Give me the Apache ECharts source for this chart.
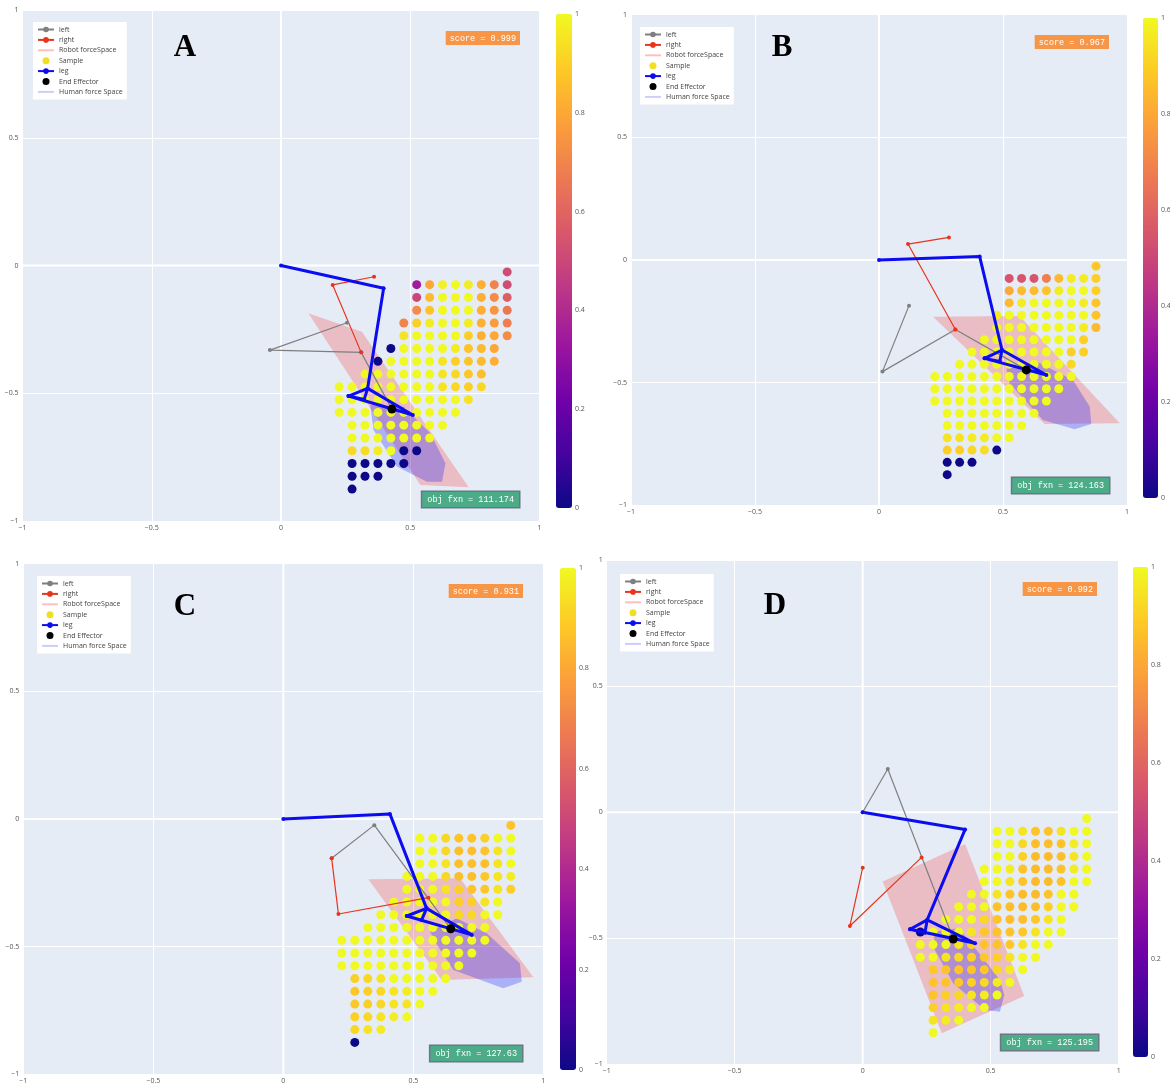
<!DOCTYPE html>
<html>
<head>
<meta charset="utf-8">
<title>Leg force space panels</title>
<script src="https://cdn.jsdelivr.net/npm/echarts@6/dist/echarts.min.js"></script>
<style>
  html, body { margin: 0; padding: 0; background: #fff; }
  #chart { width: 1170px; height: 1086px; }
</style>
</head>
<body>
<div id="chart"></div>
<script>
// ---- data ----
const panelNames = ['A', 'B', 'C', 'D'];
const scores = ['0.999', '0.967', '0.931', '0.992'];
const objFxn = ['111.174', '124.163', '127.63', '125.195'];

// sample grid (x columns, y rows)
const sampleCols = [0.225, 0.275, 0.325, 0.375, 0.425, 0.475, 0.525, 0.575, 0.625, 0.675, 0.725, 0.775, 0.825, 0.875];
const sampleRows = [-0.025, -0.075, -0.125, -0.175, -0.225, -0.275, -0.325, -0.375, -0.425,
  -0.475, -0.525, -0.575, -0.625, -0.675, -0.725, -0.775, -0.825, -0.875];

// [row index, first column index, scores along the row]
const samplesA = [
  [0, 13, [0.52]],
  [1, 6, [0.35, 0.8, 0.98, 1, 0.97, 0.82, 0.7, 0.52]],
  [2, 6, [0.5, 0.85, 1, 1, 1, 0.82, 0.72, 0.58]],
  [3, 6, [0.72, 0.87, 1, 1, 1, 0.82, 0.75, 0.66]],
  [4, 5, [0.7, 0.9, 0.97, 1, 1, 0.97, 0.82, 0.77, 0.68]],
  [5, 5, [0.95, 1, 1, 1, 1, 0.9, 0.82, 0.8, 0.72]],
  [6, 4, [0, 1, 1, 1, 1, 0.97, 0.87, 0.85, 0.8]],
  [7, 3, [0, 1, 1, 1, 1, 0.95, 0.9, 0.87, 0.85, 0.82]],
  [8, 2, [1, 1, 1, 1, 1, 1, 0.95, 0.92, 0.88, 0.86]],
  [9, 0, [1, 1, 1, 1, 1, 1, 1, 1, 0.95, 0.92, 0.9, 0.92]],
  [10, 0, [1, 1, 1, 1, 1, 1, 1, 1, 1, 1, 0.95]],
  [11, 0, [1, 1, 1, 1, 1, 1, 1, 1, 1, 1]],
  [12, 1, [1, 1, 1, 1, 1, 1, 1, 1]],
  [13, 1, [1, 1, 1, 1, 1, 1, 1]],
  [14, 1, [0.92, 0.93, 0.97, 1, 0, 0]],
  [15, 1, [0, 0, 0, 0, 0]],
  [16, 1, [0, 0, 0]],
  [17, 1, [0]]
];
const samplesB = [
  [0, 13, [0.88]],
  [1, 6, [0.55, 0.55, 0.55, 0.68, 0.85, 0.97, 0.97, 0.9]],
  [2, 6, [0.8, 0.85, 0.85, 0.87, 0.97, 1, 1, 0.9]],
  [3, 6, [0.85, 0.97, 1, 1, 1, 1, 0.97, 0.87]],
  [4, 5, [0.97, 1, 1, 1, 1, 1, 1, 1, 0.87]],
  [5, 5, [1, 1, 1, 1, 1, 1, 1, 0.97, 0.85]],
  [6, 4, [1, 1, 1, 1, 1, 1, 1, 1, 0.9]],
  [7, 3, [1, 1, 1, 1, 1, 1, 1, 1, 0.9, 0.9]],
  [8, 2, [1, 1, 1, 1, 1, 1, 1, 1, 1, 0.92]],
  [9, 0, [1, 1, 1, 1, 1, 1, 1, 1, 1, 1, 1, 1]],
  [10, 0, [1, 1, 1, 1, 1, 1, 1, 1, 1, 1, 1]],
  [11, 0, [1, 1, 1, 1, 1, 1, 1, 1, 1, 1]],
  [12, 1, [1, 1, 1, 1, 1, 1, 1, 1]],
  [13, 1, [1, 1, 1, 1, 1, 1, 1]],
  [14, 1, [0.95, 0.95, 0.97, 0.97, 1, 1]],
  [15, 1, [0.9, 0.9, 0.92, 0.93, 0]],
  [16, 1, [0, 0, 0]],
  [17, 1, [0]]
];
const samplesC = [
  [0, 13, [0.87]],
  [1, 6, [1, 1, 0.92, 0.87, 0.87, 0.9, 1, 1]],
  [2, 6, [1, 1, 0.92, 0.86, 0.86, 0.87, 0.95, 1]],
  [3, 6, [1, 1, 0.95, 0.86, 0.86, 0.86, 0.95, 1]],
  [4, 5, [1, 1, 1, 0.92, 0.86, 0.86, 0.88, 0.95, 0.97]],
  [5, 5, [1, 1, 1, 0.95, 0.9, 0.87, 0.88, 0.95, 0.9]],
  [6, 4, [1, 1, 1, 1, 1, 0.9, 0.9, 0.95, 1]],
  [7, 3, [1, 1, 1, 1, 1, 1, 0.92, 0.92, 1, 1]],
  [8, 2, [1, 1, 1, 1, 1, 1, 1, 1, 1, 1]],
  [9, 0, [1, 1, 1, 1, 1, 1, 1, 1, 1, 1, 1, 1]],
  [10, 0, [1, 1, 1, 1, 1, 1, 1, 1, 1, 1, 1]],
  [11, 0, [1, 1, 1, 1, 1, 1, 1, 1, 1, 1]],
  [12, 1, [0.9, 0.92, 0.95, 1, 1, 1, 1, 1]],
  [13, 1, [0.88, 0.9, 0.92, 0.95, 0.97, 1, 1]],
  [14, 1, [0.88, 0.9, 0.92, 0.95, 0.95, 1]],
  [15, 1, [0.9, 0.92, 0.95, 0.97, 1]],
  [16, 1, [0.92, 0.95, 0.97]],
  [17, 1, [0]]
];
const samplesD = [
  [0, 13, [1]],
  [1, 6, [1, 1, 0.95, 0.87, 0.87, 0.95, 1, 1]],
  [2, 6, [1, 1, 0.92, 0.86, 0.86, 0.87, 0.97, 1]],
  [3, 6, [1, 1, 0.9, 0.85, 0.85, 0.86, 0.95, 1]],
  [4, 5, [1, 1, 0.97, 0.87, 0.85, 0.85, 0.87, 0.97, 1]],
  [5, 5, [1, 1, 0.95, 0.87, 0.85, 0.85, 0.87, 1, 1]],
  [6, 4, [1, 1, 0.95, 0.87, 0.85, 0.85, 0.87, 1, 1]],
  [7, 3, [1, 1, 1, 0.87, 0.86, 0.85, 0.86, 0.9, 1, 1]],
  [8, 2, [1, 1, 1, 0.92, 0.87, 0.86, 0.86, 0.88, 0.95, 1]],
  [9, 0, [0, 1, 1, 1, 0.95, 0.88, 0.87, 0.87, 0.88, 0.95, 1, 1]],
  [10, 0, [1, 1, 1, 0.95, 0.9, 0.87, 0.87, 0.88, 0.95, 1, 1]],
  [11, 0, [1, 1, 0.95, 0.92, 0.9, 0.88, 0.9, 0.95, 1, 1]],
  [12, 1, [0.88, 0.87, 0.87, 0.87, 0.88, 0.92, 0.97, 1]],
  [13, 1, [0.87, 0.87, 0.88, 0.9, 0.92, 0.97, 1]],
  [14, 1, [0.87, 0.9, 0.92, 0.95, 0.97, 1]],
  [15, 1, [0.9, 0.95, 0.97, 1, 1]],
  [16, 1, [0.95, 0.97, 1]],
  [17, 1, [1]]
];

const legA = [[0, 0], [0.397, -0.089], [0.335, -0.481], [0.261, -0.511], [0.51, -0.585], [0.335, -0.481], [0.322, -0.524], [0.261, -0.511]];
const legB = [[0, 0], [0.406, 0.014], [0.496, -0.367], [0.426, -0.401], [0.675, -0.469], [0.496, -0.367], [0.487, -0.414], [0.426, -0.401]];
const legC = [[0, 0], [0.41, 0.02], [0.551, -0.35], [0.475, -0.38], [0.725, -0.454], [0.551, -0.35], [0.532, -0.396], [0.475, -0.38]];
const legD = [[0, 0], [0.4, -0.068], [0.252, -0.427], [0.185, -0.464], [0.439, -0.52], [0.252, -0.427], [0.243, -0.478], [0.185, -0.464]];

const leftA = [[0.255, -0.224], [-0.043, -0.331], [0.31, -0.34], [0.429, -0.562]];
const leftB = [[0.121, -0.186], [0.014, -0.455], [0.308, -0.283], [0.594, -0.448]];
const leftC = [[0.186, -0.154], [0.35, -0.024], [0.644, -0.43]];
const leftD = [[0, 0], [0.098, 0.172], [0.354, -0.503]];

const rightA = [[0.36, -0.044], [0.2, -0.076], [0.31, -0.34]];
const rightB = [[0.282, 0.092], [0.117, 0.065], [0.308, -0.283]];
const rightC = [[0.558, -0.308], [0.212, -0.372], [0.186, -0.154]];
const rightD = [[0, -0.22], [-0.05, -0.451], [0.23, -0.179]];

const endEffector = [[0.429, -0.562], [0.594, -0.448], [0.644, -0.43], [0.354, -0.503]];

const robotA = [[0.106, -0.187], [0.313, -0.259], [0.726, -0.868], [0.539, -0.859]];
const robotB = [[0.218, -0.231], [0.567, -0.228], [0.971, -0.666], [0.668, -0.669]];
const robotC = [[0.327, -0.236], [0.68, -0.232], [0.962, -0.62], [0.609, -0.631]];
const robotD = [[0.078, -0.275], [0.4, -0.126], [0.631, -0.729], [0.309, -0.877]];

const humanA = [[0.345, -0.546], [0.474, -0.553], [0.578, -0.657], [0.636, -0.774], [0.623, -0.846], [0.565, -0.846], [0.448, -0.787], [0.358, -0.644]];
const humanB = [[0.514, -0.442], [0.635, -0.414], [0.782, -0.489], [0.85, -0.598], [0.856, -0.669], [0.789, -0.69], [0.661, -0.652], [0.527, -0.503]];
const humanC = [[0.564, -0.441], [0.667, -0.389], [0.782, -0.448], [0.91, -0.565], [0.917, -0.637], [0.846, -0.663], [0.654, -0.591], [0.596, -0.5]];
const humanD = [[0.276, -0.474], [0.374, -0.46], [0.445, -0.546], [0.536, -0.665], [0.553, -0.725], [0.536, -0.791], [0.478, -0.785], [0.354, -0.679], [0.282, -0.546]];

const samples = [samplesA, samplesB, samplesC, samplesD];
const legs = [legA, legB, legC, legD];
const lefts = [leftA, leftB, leftC, leftD];
const rights = [rightA, rightB, rightC, rightD];
const robots = [robotA, robotB, robotC, robotD];
const humans = [humanA, humanB, humanC, humanD];

// ---- layout ----
const plotBoxes = [
  { left: 22.5, top: 10, width: 517, height: 511 },
  { left: 631, top: 14.7, width: 496, height: 490.6 },
  { left: 23.3, top: 563.7, width: 520, height: 510.6 },
  { left: 606.7, top: 560.3, width: 512, height: 504 }
];
const barBoxes = [
  { left: 556, top: 14, width: 16, height: 494 },
  { left: 1143, top: 18, width: 15, height: 480 },
  { left: 560, top: 568, width: 16, height: 502 },
  { left: 1133, top: 567, width: 15, height: 490 }
];
const legendPos = [[33, 22], [640, 27], [37, 576], [620, 574]];
const labelPos = [[185, 48], [782, 48], [185, 607], [775, 606]];
const scorePos = [[524, 28], [1113, 32], [527, 581], [1101, 579]];
const objPos = [[524, 488], [1114, 474], [527, 1042], [1103, 1031]];

const plasma = ['#0d0887', '#46039f', '#7201a8', '#9c179e', '#bd3786', '#d8576b', '#ed7953', '#fb9f3a', '#fdca26', '#f0f921'];
const robotFill = 'rgba(255,0,0,0.2)';
const humanFill = 'rgba(0,0,255,0.25)';
const tickFont = { fontSize: 7, color: '#555', fontFamily: 'Open Sans' };
const SERIES_PER_PANEL = 8;

function minusFmt(v) {
  return v < 0 ? '\u2212' + (-v) : String(v);
}

function buildSamples(rows) {
  const out = [];
  rows.forEach(([r, c0, vals]) => {
    vals.forEach((v, j) => out.push([sampleCols[c0 + j], sampleRows[r], v]));
  });
  return out;
}

function lineSeries(name, g, pts, color, width, symSize) {
  return {
    type: 'line', name, xAxisIndex: g, yAxisIndex: g, data: pts,
    symbol: 'circle', symbolSize: symSize, showSymbol: true, showAllSymbol: true,
    lineStyle: { color, width }, itemStyle: { color },
    silent: true
  };
}

function polygonSeries(name, g, pts, fill) {
  return {
    type: 'custom', name, xAxisIndex: g, yAxisIndex: g, data: pts,
    encode: { x: 0, y: 1 }, itemStyle: { color: fill }, silent: true,
    renderItem: function (params, api) {
      if (params.dataIndex !== 0) return;
      return {
        type: 'polygon',
        shape: { points: pts.map(p => api.coord(p)) },
        style: { fill: fill }
      };
    }
  };
}

// thicker white lines through the origin, drawn under everything else
function zeroLineSeries(g) {
  return {
    type: 'custom', name: 'zeroline', xAxisIndex: g, yAxisIndex: g, data: [[0, 0]],
    silent: true,
    renderItem: function (params, api) {
      const h0 = api.coord([-1, 0]), h1 = api.coord([1, 0]);
      const v0 = api.coord([0, -1]), v1 = api.coord([0, 1]);
      return {
        type: 'group',
        children: [
          { type: 'line', shape: { x1: h0[0], y1: h0[1], x2: h1[0], y2: h1[1] }, style: { stroke: '#fff', lineWidth: 2 } },
          { type: 'line', shape: { x1: v0[0], y1: v0[1], x2: v1[0], y2: v1[1] }, style: { stroke: '#fff', lineWidth: 2 } }
        ]
      };
    }
  };
}

const plotGrids = [], barGrids = [];
const plotX = [], plotY = [], barX = [], barY = [];
const series = [], visualMaps = [], legends = [], graphics = [];
const stripIcon = 'path://M0,0H24V3H0Z';

panelNames.forEach((label, p) => {
  plotGrids.push(Object.assign({ show: true, backgroundColor: '#e5ecf6', borderWidth: 0, containLabel: false, outerBoundsMode: 'none' }, plotBoxes[p]));
  plotX.push({
    type: 'value', gridIndex: p, min: -1, max: 1, interval: 0.5,
    axisLine: { show: false }, axisTick: { show: false },
    splitLine: { show: true, lineStyle: { color: '#fff', width: 1 } },
    axisLabel: Object.assign({ margin: 3, formatter: minusFmt }, tickFont)
  });
  plotY.push({
    type: 'value', gridIndex: p, min: -1, max: 1, interval: 0.5,
    axisLine: { show: false }, axisTick: { show: false },
    splitLine: { show: true, lineStyle: { color: '#fff', width: 1 } },
    axisLabel: Object.assign({ margin: 4, formatter: minusFmt }, tickFont)
  });

  series.push(
    zeroLineSeries(p),
    lineSeries('left', p, lefts[p], '#7f7f7f', 1.2, 4),
    lineSeries('right', p, rights[p], '#e8341c', 1.2, 4),
    polygonSeries('Robot forceSpace', p, robots[p], robotFill),
    {
      type: 'scatter', name: 'Sample', xAxisIndex: p, yAxisIndex: p,
      data: buildSamples(samples[p]), symbolSize: 9, silent: true,
      itemStyle: { opacity: 1 }
    },
    lineSeries('leg', p, legs[p], '#0c0cf0', 3, 4),
    {
      type: 'scatter', name: 'End Effector', xAxisIndex: p, yAxisIndex: p, z: 3,
      data: [endEffector[p]], symbolSize: 9, itemStyle: { color: '#000', opacity: 1 }, silent: true
    },
    polygonSeries('Human force Space', p, humans[p], humanFill)
  );

  // colour bar: label axis + visualMap gradient
  const bar = barBoxes[p];
  const gi = 4 + p;
  barGrids.push(Object.assign({ show: false, containLabel: false, outerBoundsMode: 'none' }, bar));
  barX.push({ type: 'value', gridIndex: gi, show: false, min: 0, max: 1 });
  barY.push({
    type: 'value', gridIndex: gi, min: 0, max: 1, interval: 0.2, position: 'right',
    axisLine: { show: false }, axisTick: { show: false }, splitLine: { show: false },
    axisLabel: Object.assign({ margin: 3 }, tickFont)
  });
  visualMaps.push({
    type: 'continuous', min: 0, max: 1, dimension: 2, seriesIndex: p * SERIES_PER_PANEL + 4,
    calculable: false, left: bar.left, top: bar.top, padding: 0,
    itemWidth: bar.width, itemHeight: bar.height, text: null, showLabel: false,
    inRange: { color: plasma }
  });

  legends.push({
    left: legendPos[p][0], top: legendPos[p][1], orient: 'vertical',
    backgroundColor: '#fff', padding: [4, 4, 4, 4], itemWidth: 16, itemHeight: 7, itemGap: 3.4,
    selectedMode: false,
    textStyle: { fontSize: 7, color: '#444', fontFamily: 'Open Sans' },
    data: [
      { name: 'left' },
      { name: 'right' },
      { name: 'Robot forceSpace', icon: stripIcon, itemStyle: { color: 'rgba(255,0,0,0.25)' } },
      { name: 'Sample', icon: 'circle', itemStyle: { color: '#f0df22' } },
      { name: 'leg' },
      { name: 'End Effector', icon: 'circle', itemStyle: { color: '#000' } },
      { name: 'Human force Space', icon: stripIcon, itemStyle: { color: 'rgba(0,0,255,0.2)' } }
    ]
  });

  graphics.push(
    {
      type: 'text', x: labelPos[p][0], y: labelPos[p][1], silent: true,
      style: { text: label, align: 'center', verticalAlign: 'middle', font: 'bold 31px "Liberation Serif"', fill: '#000' }
    },
    {
      type: 'text', x: scorePos[p][0] - 4, y: scorePos[p][1] + 3, silent: true,
      style: {
        text: 'score = ' + scores[p], align: 'right', verticalAlign: 'top',
        font: '8.5px "Liberation Mono"', fill: '#fff',
        backgroundColor: '#f79646', padding: [3, 4, 2, 4]
      }
    },
    {
      type: 'text', x: objPos[p][0] - 5, y: objPos[p][1] + 4, silent: true,
      style: {
        text: 'obj fxn = ' + objFxn[p], align: 'right', verticalAlign: 'top',
        font: '8.5px "Liberation Mono"', fill: '#fff',
        backgroundColor: '#4dac88', borderColor: '#6a7585', borderWidth: 1.5, padding: [3, 5, 3, 5]
      }
    }
  );
});

const chart = echarts.init(document.getElementById('chart'), null, { renderer: 'canvas' });
chart.setOption({
  animation: false,
  backgroundColor: '#fff',
  grid: plotGrids.concat(barGrids),
  xAxis: plotX.concat(barX),
  yAxis: plotY.concat(barY),
  visualMap: visualMaps,
  legend: legends,
  series: series,
  graphic: graphics
});
</script>
</body>
</html>
